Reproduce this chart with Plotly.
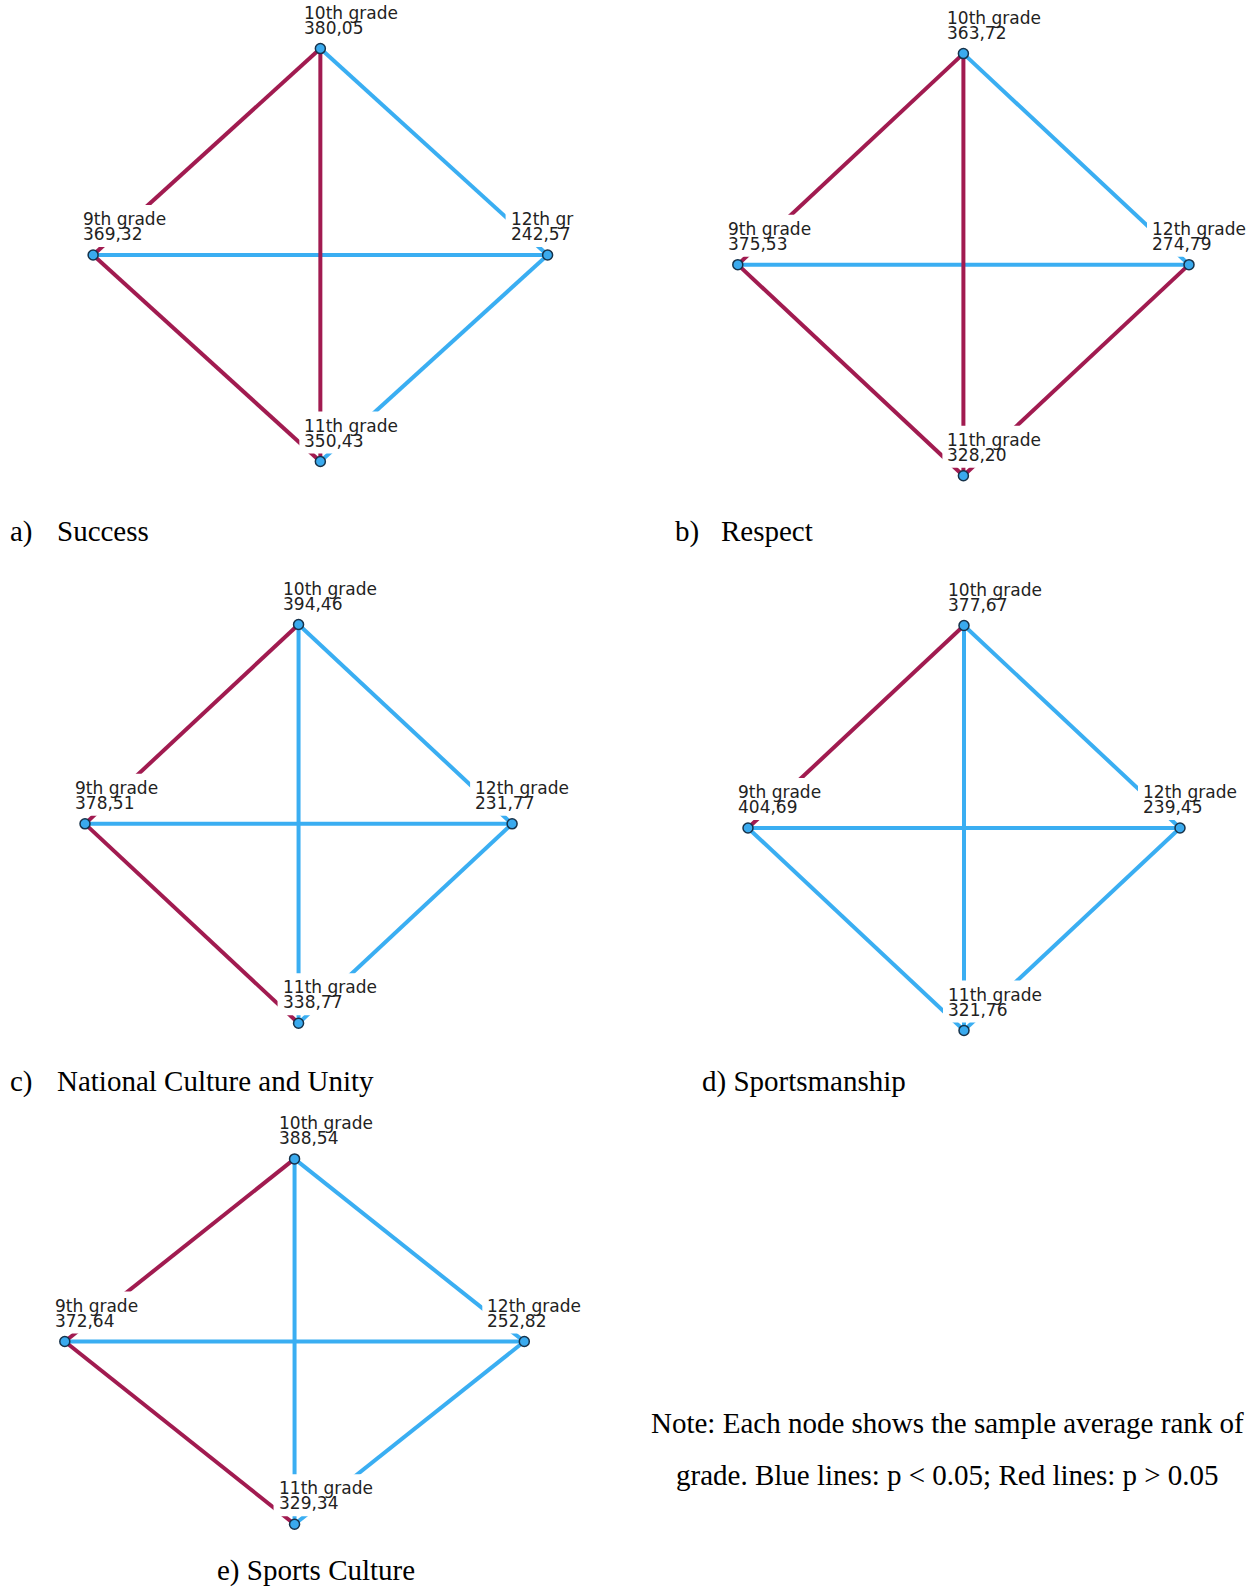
import plotly.graph_objects as go

# ---------------------------------------------------------------------------
# Data: mean ranks of each grade and pairwise significance (True = p < 0.05)
# ---------------------------------------------------------------------------
GRADES = ["9th grade", "10th grade", "11th grade", "12th grade"]

RANK_SUCCESS = [369.32, 380.05, 350.43, 242.57]
RANK_RESPECT = [375.53, 363.72, 328.20, 274.79]
RANK_NATIONAL_CULTURE = [378.51, 394.46, 338.77, 231.77]
RANK_SPORTSMANSHIP = [404.69, 377.67, 321.76, 239.45]
RANK_SPORTS_CULTURE = [372.64, 388.54, 329.34, 252.82]

PAIRS = [
    ("10th grade", "9th grade"),
    ("10th grade", "11th grade"),
    ("10th grade", "12th grade"),
    ("9th grade", "12th grade"),
    ("9th grade", "11th grade"),
    ("12th grade", "11th grade"),
]
SIG_SUCCESS = [False, False, True, True, False, True]
SIG_RESPECT = [False, False, True, True, False, False]
SIG_NATIONAL_CULTURE = [False, True, True, True, False, True]
SIG_SPORTSMANSHIP = [False, True, True, True, True, True]
SIG_SPORTS_CULTURE = [False, True, True, True, False, True]

CAPTION_LETTERS = ["a)", "b)", "c)", "d)", "e)"]
CAPTION_TITLES = ["Success", "Respect", "National Culture and Unity",
                  "Sportsmanship", "Sports Culture"]

NOTE_LINES = ["Note: Each node shows the sample average rank of",
              "grade. Blue lines: p < 0.05; Red lines: p > 0.05"]

PANELS = [
    (RANK_SUCCESS, SIG_SUCCESS),
    (RANK_RESPECT, SIG_RESPECT),
    (RANK_NATIONAL_CULTURE, SIG_NATIONAL_CULTURE),
    (RANK_SPORTSMANSHIP, SIG_SPORTSMANSHIP),
    (RANK_SPORTS_CULTURE, SIG_SPORTS_CULTURE),
]

# ---------------------------------------------------------------------------
# Layout / style
# ---------------------------------------------------------------------------
W, H = 1255, 1587
BLUE = "#3AAEF2"
RED = "#A11B50"
NODE_FILL = "#3AAAEE"
NODE_EDGE = "#16324a"
LABEL_COLOR = "#222222"
LABEL_FONT = "DejaVu Sans"
SERIF = "Liberation Serif"

# diamond layout of the network
NODE_POS = {"9th grade": (-1, 0), "10th grade": (0, 1),
            "11th grade": (0, -1), "12th grade": (1, 0)}
# horizontal offset (px) of the label block relative to its node
LABEL_DX = {"9th grade": -10, "10th grade": -16,
            "11th grade": -16, "12th grade": -37}

# pixel frame of each diamond: left, right, top, bottom node centres
FRAMES = [
    (93.1, 547.6, 48.6, 461.5),
    (737.8, 1189.0, 53.6, 475.7),
    (85.0, 512.1, 624.5, 1023.2),
    (748.0, 1180.0, 625.5, 1030.4),
    (64.8, 524.3, 1158.9, 1524.2),
]
# text clipped at the right edge of the first panel
LABEL_TEXT_OVERRIDE = {(0, "12th grade"): "12th gr"}

# caption placement: (letter x, title x or None, baseline y) in px
CAPTION_POS = [
    (10, 57, 541),
    (675, 720.6, 541),
    (10, 56.7, 1091),
    (702.4, None, 1091),
    (216.6, None, 1580),
]
NOTE_X = 948
NOTE_BASELINES = [1433, 1485]

PAD = 1.1
CAP_FS = 29
LAB_FS = 17
LAB_MID = 0.346 * LAB_FS  # baseline to vertical middle of a label line


def fmt(v):
    return f"{v:.2f}".replace(".", ",")


fig = go.Figure()
shapes = []
annotations = []
layout_axes = {}

for i, ((ranks, sig), (l, r, t, b)) in enumerate(zip(PANELS, FRAMES)):
    n = i + 1
    xa = "x" if n == 1 else f"x{n}"
    ya = "y" if n == 1 else f"y{n}"
    cx, hw = (l + r) / 2, (r - l) / 2
    cy, hh = (t + b) / 2, (b - t) / 2
    layout_axes["xaxis" if n == 1 else f"xaxis{n}"] = dict(
        domain=[(cx - PAD * hw) / W, (cx + PAD * hw) / W],
        range=[-PAD, PAD], visible=False, fixedrange=True)
    layout_axes["yaxis" if n == 1 else f"yaxis{n}"] = dict(
        domain=[1 - (cy + PAD * hh) / H, 1 - (cy - PAD * hh) / H],
        range=[-PAD, PAD], visible=False, fixedrange=True)

    # edges: blue (significant) first, red on top
    for flag, color in ((True, BLUE), (False, RED)):
        xs, ys = [], []
        for (a, c), s in zip(PAIRS, sig):
            if s == flag:
                xs += [NODE_POS[a][0], NODE_POS[c][0], None]
                ys += [NODE_POS[a][1], NODE_POS[c][1], None]
        if xs:
            fig.add_trace(go.Scatter(
                x=xs, y=ys, mode="lines", xaxis=xa, yaxis=ya,
                line=dict(color=color, width=4), hoverinfo="skip",
                showlegend=False))

    # nodes
    fig.add_trace(go.Scatter(
        x=[NODE_POS[g][0] for g in GRADES], y=[NODE_POS[g][1] for g in GRADES],
        mode="markers", xaxis=xa, yaxis=ya, cliponaxis=False,
        marker=dict(size=10, color=NODE_FILL, line=dict(color=NODE_EDGE, width=1.5)),
        text=[f"{g}: {fmt(v)}" for g, v in zip(GRADES, ranks)],
        hoverinfo="text", showlegend=False))

    # labels with a white backing box that hides the edges beneath them
    for g, v in zip(GRADES, ranks):
        nx, ny = NODE_POS[g]
        dx = LABEL_DX[g]
        shapes.append(dict(
            type="rect", xref=xa, yref=ya, xsizemode="pixel", ysizemode="pixel",
            xanchor=nx, yanchor=ny, x0=dx - 5, x1=dx + 101, y0=8, y1=50,
            fillcolor="white", line=dict(width=0), layer="above"))
        name = LABEL_TEXT_OVERRIDE.get((i, g), g)
        for txt, base in ((name, 30), (fmt(v), 15)):
            annotations.append(dict(
                x=nx, y=ny, xref=xa, yref=ya, text=txt, showarrow=False,
                xanchor="left", yanchor="middle", xshift=dx, yshift=base + LAB_MID,
                borderpad=0, borderwidth=0,
                font=dict(family=LABEL_FONT, size=LAB_FS, color=LABEL_COLOR)))


def paper_text(text, x_px, baseline_px, size, xanchor="left"):
    center = baseline_px - 0.3375 * size
    return dict(x=x_px / W, y=1 - center / H, xref="paper", yref="paper",
                text=text, showarrow=False, xanchor=xanchor, yanchor="middle",
                borderpad=0, borderwidth=0,
                font=dict(family=SERIF, size=size, color="black"))


for letter, title, (lx, tx, by) in zip(CAPTION_LETTERS, CAPTION_TITLES, CAPTION_POS):
    if tx is None:
        annotations.append(paper_text(f"{letter} {title}", lx, by, CAP_FS))
    else:
        annotations.append(paper_text(letter, lx, by, CAP_FS))
        annotations.append(paper_text(title, tx, by, CAP_FS))

for line, by in zip(NOTE_LINES, NOTE_BASELINES):
    annotations.append(paper_text(line, NOTE_X, by, CAP_FS, xanchor="center"))

fig.update_layout(
    width=W, height=H, margin=dict(l=0, r=0, t=0, b=0),
    paper_bgcolor="white", plot_bgcolor="white",
    shapes=shapes, annotations=annotations, showlegend=False,
    **layout_axes)

fig.write_html("out.html", config={"displayModeBar": False})
